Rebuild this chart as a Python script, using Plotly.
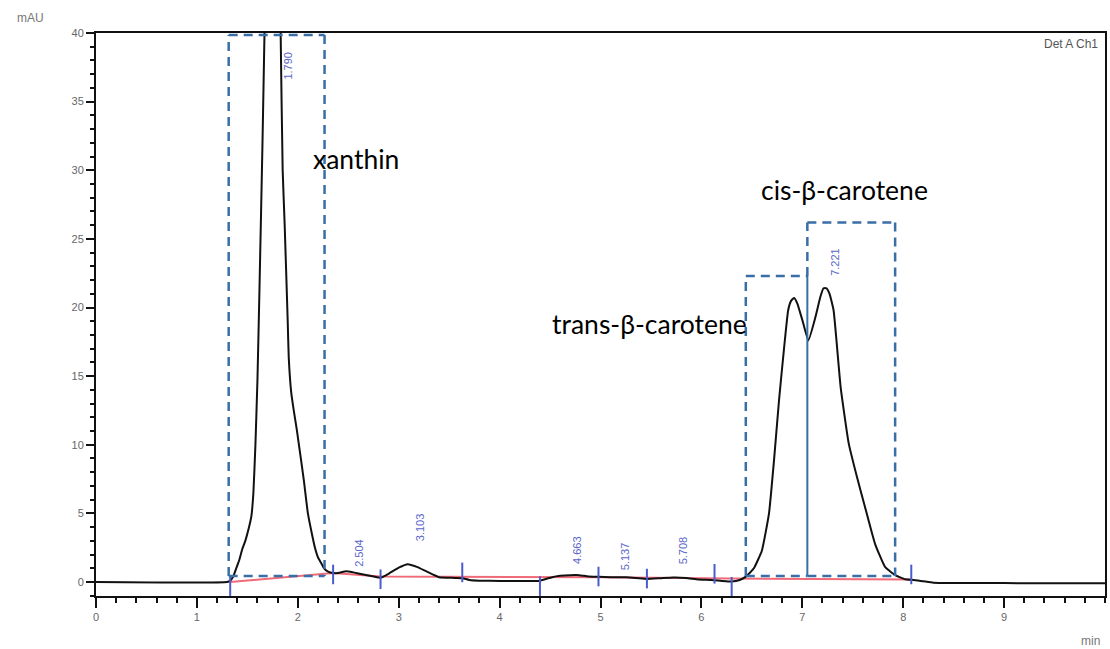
import plotly.graph_objects as go

# ---------------- data ----------------
time_min = [0.0, 1.30, 1.33, 1.36, 1.39, 1.42, 1.45, 1.48, 1.51, 1.54, 1.56, 1.58, 1.60, 1.62,
            1.65, 1.67, 1.70, 1.74, 1.78, 1.81, 1.83, 1.85, 1.87, 1.90, 1.91, 1.935, 1.96, 1.99,
            2.03, 2.06, 2.10, 2.14, 2.17, 2.20, 2.23, 2.26, 2.30, 2.35, 2.40, 2.48, 2.55, 2.65,
            2.75, 2.82, 2.90, 3.00, 3.09, 3.18, 3.28, 3.40, 3.55, 3.63, 3.70, 3.80, 4.00, 4.20,
            4.39, 4.45, 4.52, 4.60, 4.70, 4.79, 4.88, 4.98, 5.10, 5.25, 5.35, 5.46, 5.60, 5.72,
            5.85, 5.97, 6.10, 6.20, 6.30, 6.38, 6.44, 6.52, 6.60, 6.67, 6.72, 6.77, 6.82, 6.86,
            6.89, 6.92, 6.95, 7.00, 7.06, 7.13, 7.18, 7.21, 7.24, 7.27, 7.31, 7.38, 7.46, 7.54,
            7.62, 7.72, 7.82, 7.92, 8.02, 8.10, 8.20, 8.30, 9.0, 10.0]
signal_mau = [0.0, 0.0, 0.1, 0.4, 1.0, 1.6, 2.4, 3.0, 3.8, 4.8, 6.5, 10.0, 14.7, 21.3,
              32.0, 40.0, 52.0, 64.0, 68.0, 55.0, 40.0, 30.0, 26.0, 19.0, 16.4, 13.8, 12.5, 11.1,
              9.0, 7.4, 5.0, 3.5, 2.5, 1.8, 1.4, 1.0, 0.75, 0.65, 0.65, 0.78, 0.7, 0.55,
              0.4, 0.3, 0.6, 1.05, 1.3, 1.1, 0.75, 0.35, 0.3, 0.28, 0.15, 0.1, 0.08, 0.08,
              0.08, 0.2, 0.35, 0.45, 0.5, 0.5, 0.4, 0.38, 0.35, 0.35, 0.3, 0.22, 0.28, 0.33,
              0.3, 0.18, 0.15, 0.08, 0.03, 0.15, 0.39, 1.0, 2.3, 5.0, 8.9, 13.3, 17.1, 19.8,
              20.5, 20.7, 20.3, 19.1, 17.6, 19.3, 20.8, 21.4, 21.4, 21.0, 19.8, 14.2, 10.1, 7.7,
              5.5, 2.8, 1.1, 0.5, 0.2, 0.15, 0.05, -0.05, -0.08, -0.1]

baseline_t = [1.33, 2.35, 2.82, 4.40, 5.00, 6.30, 8.08]
baseline_y = [0.0, 0.65, 0.40, 0.35, 0.35, 0.25, 0.18]

marker_t = [1.33, 2.35, 2.82, 3.63, 4.40, 4.98, 5.46, 6.13, 6.30, 8.08]
marker_y = [-0.3, 0.55, 0.2, 0.7, -0.3, 0.4, 0.25, 0.6, -0.35, 0.55]

peak_labels = ["1.790", "2.504", "3.103", "4.663", "5.137", "5.708", "7.221"]
peak_t = [1.790, 2.504, 3.103, 4.663, 5.137, 5.708, 7.221]
peak_label_y = [37.6, 2.1, 4.0, 2.3, 1.9, 2.3, 23.3]

# dashed region boxes: (left, right, top) with common bottom
box_names = ["xanthin", "trans-β-carotene", "cis-β-carotene"]
box_left = [1.315, 6.44, 7.05]
box_right = [2.265, 7.05, 7.92]
box_top = [39.85, 22.3, 26.2]
box_bottom = 0.44

name_x = [2.58, 5.49, 7.42]
name_y = [30.8, 18.8, 28.55]

x_ticks = [0, 1, 2, 3, 4, 5, 6, 7, 8, 9]
y_ticks = [0, 5, 10, 15, 20, 25, 30, 35, 40]

# ---------------- figure ----------------
BLUE = "#3a6ea6"
fig = go.Figure()

fig.add_trace(go.Scatter(x=baseline_t, y=baseline_y, mode="lines",
                         line=dict(color="#f06a78", width=2), hoverinfo="skip"))
fig.add_trace(go.Scatter(x=time_min, y=signal_mau, mode="lines",
                         line=dict(color="#111111", width=2, shape="spline", smoothing=0.4),
                         hoverinfo="skip"))
fig.add_trace(go.Scatter(x=marker_t, y=marker_y, mode="markers",
                         marker=dict(symbol="line-ns", size=14,
                                     line=dict(color="#4a5ccc", width=2)),
                         hoverinfo="skip"))

dash = "9px,6px"
# xanthin box
i = 0
for (xa, ya, xb, yb) in [(box_left[i], box_bottom, box_left[i], box_top[i]),
                         (box_left[i], box_top[i], box_right[i], box_top[i]),
                         (box_right[i], box_top[i], box_right[i], box_bottom),
                         (box_left[i], box_bottom, box_right[i], box_bottom)]:
    fig.add_shape(type="line", x0=xa, y0=ya, x1=xb, y1=yb,
                  line=dict(color=BLUE, width=2.5, dash=dash))
# trans box
i = 1
for (xa, ya, xb, yb) in [(box_left[i], box_bottom, box_left[i], box_top[i]),
                         (box_left[i], box_top[i], box_right[i], box_top[i]),
                         (box_left[i], box_bottom, box_right[i], box_bottom)]:
    fig.add_shape(type="line", x0=xa, y0=ya, x1=xb, y1=yb,
                  line=dict(color=BLUE, width=2.5, dash=dash))
fig.add_shape(type="line", x0=box_right[1], y0=box_bottom, x1=box_right[1], y1=box_top[1],
              line=dict(color=BLUE, width=2))
# cis box
i = 2
for (xa, ya, xb, yb) in [(box_left[i], box_top[1], box_left[i], box_top[i]),
                         (box_left[i], box_top[i], box_right[i], box_top[i]),
                         (box_right[i], box_top[i], box_right[i], box_bottom),
                         (box_left[i], box_bottom, box_right[i], box_bottom)]:
    fig.add_shape(type="line", x0=xa, y0=ya, x1=xb, y1=yb,
                  line=dict(color=BLUE, width=2.5, dash=dash))

# region names
for nm, nx, ny in zip(box_names, name_x, name_y):
    fig.add_annotation(x=nx, y=ny, text=nm, showarrow=False,
                       font=dict(family="Lato, Open Sans, sans-serif", size=26.5, color="#000"))

# peak retention-time labels
for lab, px, py in zip(peak_labels, peak_t, peak_label_y):
    fig.add_annotation(x=px, y=py, text=lab, showarrow=False, textangle=-90,
                       xshift=11, font=dict(family="Liberation Sans", size=11, color="#5a66c8"))

fig.add_annotation(xref="paper", yref="paper", x=-0.08, y=1.027, text="mAU",
                   showarrow=False, xanchor="left", yanchor="middle",
                   font=dict(family="Liberation Sans", size=12, color="#777"))
fig.add_annotation(xref="paper", yref="paper", x=0.995, y=0.98, text="Det A Ch1",
                   showarrow=False, xanchor="right", yanchor="middle",
                   font=dict(family="Liberation Sans", size=12, color="#555"))
fig.add_annotation(xref="paper", yref="paper", x=0.997, y=-0.08, text="min",
                   showarrow=False, xanchor="right", yanchor="middle",
                   font=dict(family="Liberation Sans", size=12, color="#777"))

fig.update_layout(
    width=1110, height=649,
    margin=dict(l=96, r=3, t=33, b=53),
    paper_bgcolor="white", plot_bgcolor="white",
    showlegend=False,
    xaxis=dict(range=[0, 10], showgrid=False, zeroline=False,
               showline=True, linecolor="#111", linewidth=2, mirror=True,
               tickmode="array", tickvals=x_ticks, ticks="outside", ticklen=10,
               tickwidth=2, tickcolor="#111",
               minor=dict(dtick=0.2, ticks="outside", ticklen=5, tickwidth=2, tickcolor="#111"),
               tickfont=dict(family="Liberation Sans", size=11, color="#666")),
    yaxis=dict(range=[-1.02, 40], showgrid=False, zeroline=False,
               showline=True, linecolor="#111", linewidth=2, mirror=True,
               tickmode="array", tickvals=y_ticks, ticks="outside", ticklen=8,
               tickwidth=2, tickcolor="#111",
               minor=dict(dtick=1, ticks="outside", ticklen=4, tickwidth=2, tickcolor="#111"),
               tickfont=dict(family="Liberation Sans", size=11, color="#666")),
)

fig.write_html("out.html")
